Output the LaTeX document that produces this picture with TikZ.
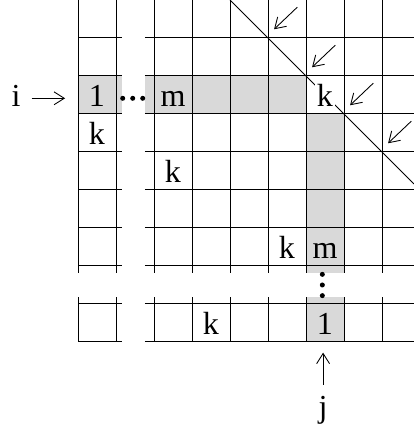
\documentclass[tikz,border=0pt]{standalone}
\usepackage{fontspec}
\setmainfont{Liberation Serif}
\usetikzlibrary{arrows.meta}
\tikzset{
  cell/.style={font=\fontsize{24}{28}\selectfont,anchor=base,inner sep=1.5pt},
  shade/.style={fill=black!15},
  gline/.style={line width=0.75pt},
  arr/.style={-{Straight Barb[length=2.7mm,width=3.4mm]},line width=0.65pt},
}

\begin{document}
\begin{tikzpicture}
\useasboundingbox (-2.053,0) rectangle (8.842,-11.29);
% shaded row i and column j
\fill[shade] (0,-2) rectangle (1.16,-3);
\fill[shade] (1.76,-2) rectangle (6,-3);
\fill[shade] (6,-3) rectangle (7,-7.18);
\fill[shade] (6,-7.82) rectangle (7,-9);
% grid, split into blocks
\foreach \y in {1,...,7,8,9} {\draw[gline] (0,-\y)--(1.16,-\y); \draw[gline] (1.76,-\y)--(8.842,-\y);}
\foreach \x in {0,...,8} {\draw[gline] (\x,0)--(\x,-7.18); \draw[gline] (\x,-7.82)--(\x,-9);}
% diagonal and small arrows
\draw[gline] (4,0)--(8.842,-4.842);
\foreach \c in {0,...,3} {\draw[arr] ({5+\c+0.77},{-\c-0.19})--({5+\c+0.16},{-\c-0.77});}
% dots
\foreach \x in {1.176,1.44,1.703} {\fill (\x,-2.587) circle (0.066);}
\foreach \y in {7.22,7.5,7.78} {\fill (6.43,-\y) circle (0.066);}
% entries
\node[cell] (one) at (0.5,-2.81) {1};
\node[cell] (mrow) at (2.5,-2.81) {m};
\node[cell,fill=white] (kdiag) at (6.5,-2.81) {k};
\node[cell] (ka) at (0.5,-3.81) {k};
\node[cell] (kb) at (2.5,-4.81) {k};
\node[cell] (kc) at (5.5,-6.81) {k};
\node[cell] (mcol) at (6.5,-6.81) {m};
\node[cell] (kd) at (3.5,-8.81) {k};
\node[cell] (onecol) at (6.5,-8.81) {1};
% labels i and j
\node[cell] (ilab) at (-1.63,-2.81) {i};
\coordinate (itail) at (-1.22,-2.587);
\coordinate (itip) at (-0.34,-2.587);
\draw[arr] (itail)--(itip);
\node[cell] (jlab) at (6.45,-11.0) {j};
\coordinate (jtail) at (6.45,-10.13);
\coordinate (jtip) at (6.45,-9.28);
\draw[arr] (jtail)--(jtip);
\end{tikzpicture}
\end{document}
